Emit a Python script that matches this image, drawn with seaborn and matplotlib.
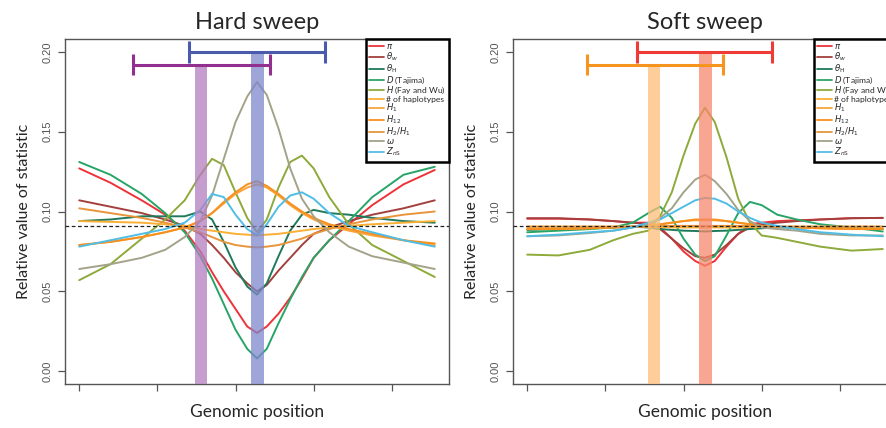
import numpy as np
import pandas as pd
import matplotlib
matplotlib.use('Agg')
import matplotlib.pyplot as plt
from matplotlib.lines import Line2D
import seaborn as sns

# positions along the chromosome (sweep in the middle, at 45.5)
positions = [0, 8, 16, 22, 27, 31, 34, 37, 40, 43, 45.5, 48, 51, 54, 57, 60, 64, 69, 75, 83, 91]

stat_labels = [r'$\pi$', r'$\theta_w$', r'$\theta_\mathrm{H}$', r'$D$ (Tajima)', r'$H$ (Fay and Wu)',
               '# of haplotypes', r'$H_1$', r'$H_{12}$', r'$H_2/H_1$', r'$\omega$', r'$Z_{n\mathrm{S}}$']
stat_colors = ['#EE3338', '#A3403D', '#1F7A5C', '#27A567', '#8DAA3A',
               '#FBB034', '#FBA43C', '#F7901E', '#E8953B', '#A3A38A', '#4FBDE5']

# hard sweep
hard_pi = [0.127, 0.118, 0.107, 0.098, 0.088, 0.075, 0.062, 0.050, 0.039, 0.028, 0.024,
           0.028, 0.036, 0.046, 0.058, 0.071, 0.082, 0.092, 0.104, 0.117, 0.126]
hard_theta_w = [0.107, 0.103, 0.099, 0.095, 0.091, 0.086, 0.079, 0.071, 0.062, 0.055, 0.050,
                0.054, 0.063, 0.071, 0.079, 0.086, 0.090, 0.094, 0.098, 0.102, 0.107]
hard_theta_h = [0.094, 0.095, 0.097, 0.097, 0.097, 0.100, 0.095, 0.081, 0.065, 0.053, 0.048,
                0.055, 0.072, 0.088, 0.098, 0.101, 0.099, 0.098, 0.096, 0.094, 0.093]
hard_tajima_d = [0.131, 0.123, 0.111, 0.099, 0.087, 0.072, 0.058, 0.042, 0.026, 0.014, 0.008,
                 0.014, 0.030, 0.045, 0.059, 0.071, 0.082, 0.094, 0.109, 0.123, 0.128]
hard_fay_wu_h = [0.057, 0.067, 0.083, 0.095, 0.107, 0.123, 0.133, 0.129, 0.112, 0.096, 0.087,
                 0.095, 0.115, 0.131, 0.135, 0.127, 0.109, 0.092, 0.079, 0.069, 0.059]
hard_n_haps = [0.094, 0.0935, 0.093, 0.092, 0.091, 0.089, 0.088, 0.087, 0.086, 0.0855, 0.085,
               0.0855, 0.086, 0.087, 0.088, 0.089, 0.090, 0.091, 0.092, 0.093, 0.094]
hard_h1 = [0.079, 0.081, 0.084, 0.087, 0.090, 0.094, 0.099, 0.105, 0.111, 0.115, 0.117,
           0.115, 0.110, 0.104, 0.099, 0.095, 0.091, 0.088, 0.085, 0.082, 0.079]
hard_h12 = [0.079, 0.081, 0.084, 0.087, 0.090, 0.094, 0.099, 0.106, 0.112, 0.117, 0.119,
            0.116, 0.111, 0.105, 0.100, 0.096, 0.092, 0.089, 0.086, 0.082, 0.080]
hard_h2_h1 = [0.102, 0.099, 0.096, 0.093, 0.090, 0.087, 0.084, 0.081, 0.079, 0.078, 0.0775,
              0.078, 0.079, 0.081, 0.083, 0.086, 0.089, 0.092, 0.095, 0.098, 0.100]
hard_omega = [0.064, 0.067, 0.071, 0.076, 0.084, 0.094, 0.110, 0.133, 0.156, 0.172, 0.181,
              0.173, 0.152, 0.127, 0.108, 0.097, 0.087, 0.078, 0.072, 0.068, 0.064]
hard_zns = [0.078, 0.082, 0.086, 0.089, 0.093, 0.101, 0.111, 0.109, 0.098, 0.089, 0.085,
            0.092, 0.103, 0.110, 0.112, 0.108, 0.099, 0.091, 0.087, 0.082, 0.078]

# soft sweep
soft_pi = [0.0955, 0.0955, 0.095, 0.094, 0.093, 0.093, 0.090, 0.083, 0.075, 0.069, 0.066,
           0.069, 0.078, 0.086, 0.092, 0.093, 0.094, 0.0945, 0.095, 0.0958, 0.096]
soft_theta_w = [0.0958, 0.0958, 0.095, 0.094, 0.093, 0.092, 0.089, 0.083, 0.077, 0.072, 0.071,
                0.073, 0.079, 0.086, 0.090, 0.092, 0.093, 0.094, 0.095, 0.0958, 0.096]
soft_theta_h = [0.0885, 0.089, 0.0895, 0.090, 0.0905, 0.090, 0.089, 0.0885, 0.088, 0.0878, 0.0875,
                0.0878, 0.088, 0.0885, 0.089, 0.0895, 0.090, 0.090, 0.090, 0.0895, 0.089]
soft_tajima_d = [0.087, 0.088, 0.089, 0.090, 0.093, 0.099, 0.103, 0.096, 0.083, 0.073, 0.069,
                 0.072, 0.085, 0.099, 0.106, 0.104, 0.098, 0.095, 0.092, 0.090, 0.0875]
soft_fay_wu_h = [0.073, 0.0725, 0.076, 0.082, 0.086, 0.088, 0.097, 0.112, 0.135, 0.155, 0.165,
                 0.156, 0.134, 0.108, 0.093, 0.085, 0.0835, 0.081, 0.078, 0.0755, 0.0765]
soft_n_haps = [0.0905, 0.0905, 0.0905, 0.0905, 0.0905, 0.0905, 0.0903, 0.090, 0.090, 0.090, 0.090,
               0.090, 0.090, 0.090, 0.0903, 0.0905, 0.0905, 0.0905, 0.0905, 0.0905, 0.0905]
soft_h1 = [0.089, 0.089, 0.0895, 0.090, 0.0905, 0.091, 0.092, 0.093, 0.094, 0.0945, 0.0945,
           0.0945, 0.094, 0.093, 0.092, 0.091, 0.0905, 0.090, 0.0895, 0.089, 0.089]
soft_h12 = [0.089, 0.089, 0.0895, 0.090, 0.0905, 0.091, 0.092, 0.093, 0.094, 0.095, 0.095,
            0.095, 0.094, 0.093, 0.092, 0.091, 0.0905, 0.090, 0.0895, 0.089, 0.089]
soft_h2_h1 = [0.0905, 0.0905, 0.0905, 0.0905, 0.0905, 0.0905, 0.091, 0.091, 0.091, 0.091, 0.091,
              0.091, 0.091, 0.091, 0.091, 0.0905, 0.0905, 0.0905, 0.0905, 0.0905, 0.0905]
soft_omega = [0.0845, 0.085, 0.0865, 0.088, 0.090, 0.092, 0.096, 0.102, 0.112, 0.120, 0.123,
              0.119, 0.111, 0.101, 0.094, 0.090, 0.089, 0.088, 0.086, 0.085, 0.085]
soft_zns = [0.0845, 0.0855, 0.087, 0.088, 0.090, 0.093, 0.095, 0.099, 0.103, 0.107, 0.1085,
            0.108, 0.105, 0.100, 0.096, 0.093, 0.091, 0.089, 0.087, 0.0855, 0.0845]

# sweep sites (shaded bars) and their intervals
hard_sites = [31.2, 45.6]
hard_tops = [0.192, 0.200]
hard_ci_low = [13.8, 28.2]
hard_ci_high = [48.7, 62.8]
soft_sites = [32.5, 45.6]
soft_tops = [0.192, 0.200]
soft_ci_low = [15.3, 28.1]
soft_ci_high = [50.1, 62.6]

neutral_level = 1 / 11

sns.set_style('ticks')
plt.rcParams['font.family'] = ['Lato', 'DejaVu Sans']

YMIN, YMAX = -0.008, 0.208


def draw_panel(ax, title, series, sites, tops, ci_lo, ci_hi, bar_cols, ci_cols):
    long = pd.concat([pd.DataFrame({'pos': positions, 'value': v, 'stat': lab})
                      for lab, v in zip(stat_labels, series)], ignore_index=True)
    sns.lineplot(data=long, x='pos', y='value', hue='stat', hue_order=stat_labels,
                 palette=stat_colors, linewidth=1.4, legend=False, estimator=None,
                 sort=False, ax=ax, zorder=2)
    ax.axhline(neutral_level, color='#222222', ls=(0, (3, 2)), lw=0.9, zorder=3)
    ax.bar(sites, np.array(tops) - YMIN, bottom=YMIN, width=3.2, color=bar_cols,
           alpha=0.75, zorder=4, linewidth=0)
    for lo, hi, y, c in zip(ci_lo, ci_hi, tops, ci_cols):
        ax.hlines(y, lo, hi, color=c, lw=2.2, zorder=5)
        ax.vlines([lo, hi], y - 0.0068, y + 0.0068, color=c, lw=2.2, zorder=5)

    ax.set_xlim(-3.64, 94.64)
    ax.set_ylim(YMIN, YMAX)
    ax.set_xticks([0, 20, 40, 60, 80])
    ax.set_xticklabels([])
    yt = [0, 0.05, 0.10, 0.15, 0.20]
    ax.set_yticks(yt)
    ax.set_yticklabels([f'{t:.2f}' for t in yt], rotation=90, va='center',
                       fontsize=8, color='#555555', family='Liberation Sans')
    ax.tick_params(length=5, width=0.9, color='#555555', pad=4)
    for sp in ax.spines.values():
        sp.set_color('#555555')
        sp.set_linewidth(1.0)

    ax.set_title(title, fontsize=17, pad=7)
    ax.set_xlabel('Genomic position', fontsize=12.5)
    ax.set_ylabel('Relative value of statistic', fontsize=11.5)
    ax.xaxis.set_label_coords(0.5, -0.058)
    ax.yaxis.set_label_coords(-0.088, 0.5)

    # legend in the top right corner, thick black frame
    handles = [Line2D([0], [0], color=c, lw=1.3) for c in stat_colors]
    leg = ax.legend(handles, stat_labels, loc='upper right', bbox_to_anchor=(1, 1),
                    borderaxespad=0, fontsize=6.1, fancybox=False, framealpha=1,
                    edgecolor='black', handlelength=1.8, handletextpad=0.2,
                    labelspacing=-0.08, borderpad=0.4)
    leg.get_frame().set_linewidth(1.8)
    leg.set_zorder(10)


fig = plt.figure(figsize=(8.87, 4.28), dpi=100)
ax1 = fig.add_axes([65 / 887, 1 - 384 / 428, 384 / 887, 345 / 428])
ax2 = fig.add_axes([513 / 887, 1 - 384 / 428, 384 / 887, 345 / 428])

draw_panel(ax1, 'Hard sweep',
           [hard_pi, hard_theta_w, hard_theta_h, hard_tajima_d, hard_fay_wu_h, hard_n_haps,
            hard_h1, hard_h12, hard_h2_h1, hard_omega, hard_zns],
           hard_sites, hard_tops, hard_ci_low, hard_ci_high,
           ['#B27DBE', '#7E87CC'], ['#93308F', '#4A5BAE'])
draw_panel(ax2, 'Soft sweep',
           [soft_pi, soft_theta_w, soft_theta_h, soft_tajima_d, soft_fay_wu_h, soft_n_haps,
            soft_h1, soft_h12, soft_h2_h1, soft_omega, soft_zns],
           soft_sites, soft_tops, soft_ci_low, soft_ci_high,
           ['#FDBE78', '#F6896C'], ['#F7941D', '#EE3B36'])

fig.savefig('out.png', dpi=100)
